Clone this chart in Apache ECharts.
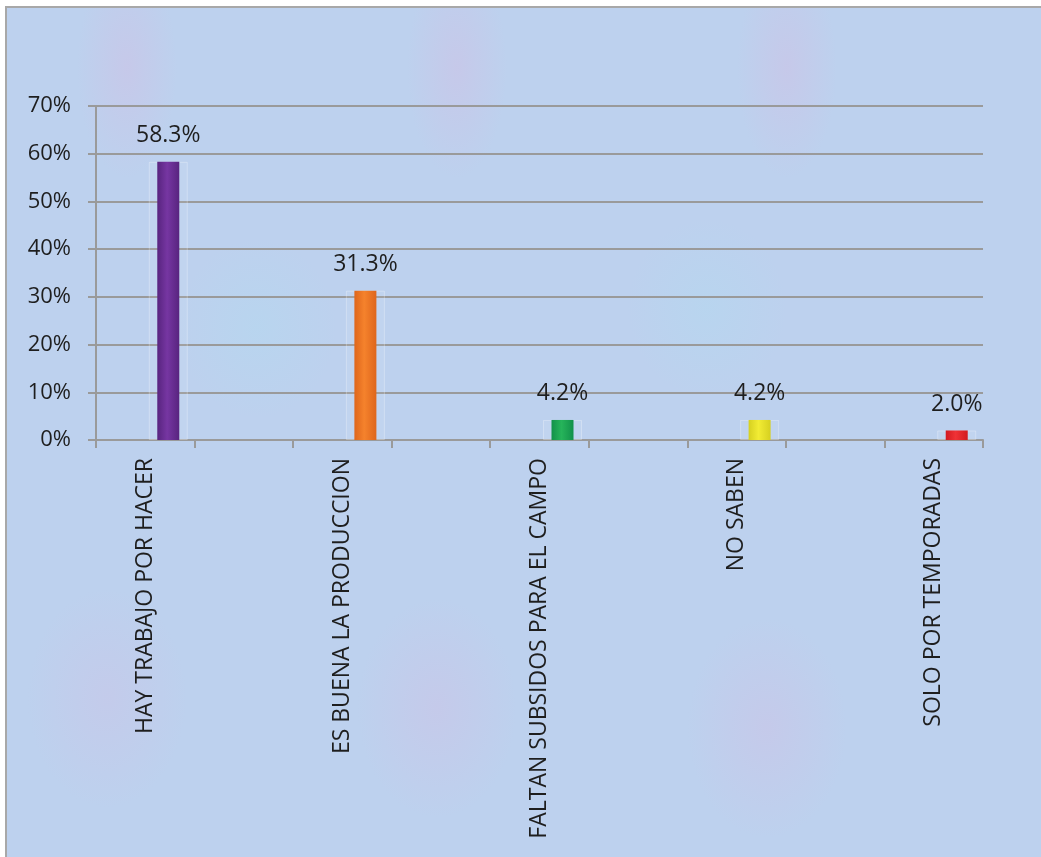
<!DOCTYPE html>
<html>
<head>
<meta charset="utf-8">
<script src="https://cdn.jsdelivr.net/npm/echarts@6/dist/echarts.min.js"></script>
<style>
  html, body { margin: 0; padding: 0; background: #ffffff; }
  #bg {
    position: absolute; left: 5px; top: 6px; width: 1036px; height: 851px;
    border-top: 2px solid #a8a8a8; border-left: 2px solid #a8a8a8;
    box-sizing: border-box;
    background-color: #bdd1ee;
    background-image:
      radial-gradient(ellipse 50px 110px at 120px 60px, rgba(215,185,225,0.35), rgba(215,185,225,0) 100%),
      radial-gradient(ellipse 50px 110px at 450px 60px, rgba(215,185,225,0.35), rgba(215,185,225,0) 100%),
      radial-gradient(ellipse 50px 110px at 780px 60px, rgba(215,185,225,0.35), rgba(215,185,225,0) 100%),
      radial-gradient(ellipse 80px 90px at 250px 320px, rgba(175,220,240,0.35), rgba(175,220,240,0) 100%),
      radial-gradient(ellipse 80px 90px at 700px 300px, rgba(175,220,240,0.35), rgba(175,220,240,0) 100%),
      radial-gradient(ellipse 80px 110px at 430px 700px, rgba(215,185,225,0.3), rgba(215,185,225,0) 100%),
      radial-gradient(ellipse 80px 110px at 760px 720px, rgba(215,185,225,0.3), rgba(215,185,225,0) 100%),
      radial-gradient(ellipse 80px 110px at 100px 690px, rgba(215,185,225,0.25), rgba(215,185,225,0) 100%);
  }
  #chart { position: absolute; left: 0; top: 0; width: 1041px; height: 857px; }
</style>
</head>
<body>
<div id="bg"></div>
<div id="chart"></div>
<script>
// ---- data ----
const categories = ['HAY TRABAJO POR HACER', 'ES BUENA LA PRODUCCION', 'FALTAN SUBSIDOS PARA EL CAMPO', 'NO SABEN', 'SOLO POR TEMPORADAS'];
const values = [58.3, 31.3, 4.2, 4.2, 2.0];
const barColors = [
  ['#58247f', '#7636a2'],
  ['#de661c', '#f5822c'],
  ['#12914a', '#26b45a'],
  ['#d6d020', '#f2ec34'],
  ['#d21a20', '#f03236']
];
const yMin = 0, yMax = 70, yStep = 10;

// Excel layout: each category followed by an empty slot (ticks at every slot boundary)
const slots = [], slotValues = [], slotColors = [];
categories.forEach(function (c, i) {
  slots.push(c); slotValues.push(values[i]); slotColors.push(barColors[i]);
  if (i < categories.length - 1) { slots.push(''); slotValues.push(null); slotColors.push(null); }
});
const emptyData = slots.map(function () { return null; });

const font = '"Open Sans", "Liberation Sans", sans-serif';

const realData = slotValues.map(function (v, i) {
  if (v === null) return null;
  const c = slotColors[i];
  return {
    value: v,
    itemStyle: {
      color: new echarts.graphic.LinearGradient(0, 0, 1, 0, [
        { offset: 0, color: c[0] },
        { offset: 0.45, color: c[1] },
        { offset: 1, color: c[0] }
      ])
    }
  };
});

const chart = echarts.init(document.getElementById('chart'), null, { renderer: 'canvas' });
chart.setOption({
  backgroundColor: 'transparent',
  animation: false,
  grid: { left: 96, right: 58, top: 106, bottom: 417, containLabel: false },
  xAxis: [{
    type: 'category',
    data: slots,
    boundaryGap: true,
    axisLine: { show: true, lineStyle: { color: '#9a9a9a', width: 2 } },
    axisTick: { show: true, interval: 0, alignWithLabel: false, length: 8, lineStyle: { color: '#9a9a9a', width: 2 } },
    axisLabel: {
      interval: 0, rotate: 90, margin: 18,
      color: '#1e1e1e', fontFamily: font, fontSize: 23
    },
    splitLine: { show: false }
  }, {
    type: 'category',
    data: slots,
    position: 'bottom',
    show: false
  }],
  yAxis: {
    type: 'value',
    min: yMin, max: yMax, interval: yStep,
    axisLine: { show: true, lineStyle: { color: '#9a9a9a', width: 2 } },
    axisTick: { show: true, length: 8, lineStyle: { color: '#9a9a9a', width: 2 } },
    axisLabel: {
      margin: 25, color: '#1e1e1e', fontFamily: font, fontSize: 22,
      formatter: function (v) { return v + '%'; }
    },
    splitLine: { show: true, lineStyle: { color: '#9a9a9a', width: 2 } }
  },
  series: [
    { type: 'bar', xAxisIndex: 1, data: emptyData, barWidth: 22, barGap: (24 / 22 * 100) + '%', silent: true },
    {
      type: 'bar', xAxisIndex: 1, data: slotValues, barWidth: 39, z: 1, silent: true,
      itemStyle: { color: 'rgba(255,255,255,0.07)', borderColor: 'rgba(255,255,255,0.28)', borderWidth: 1 }
    },
    { type: 'bar', xAxisIndex: 0, data: emptyData, barWidth: 22, barGap: (24 / 22 * 100) + '%', silent: true },
    {
      type: 'bar', xAxisIndex: 0, data: realData, barWidth: 22, z: 3,
      label: {
        show: true, position: 'top', distance: 15,
        color: '#1e1e1e', fontFamily: font, fontSize: 23,
        formatter: function (p) { return p.value.toFixed(1) + '%'; }
      }
    }
  ]
});
</script>
</body>
</html>
